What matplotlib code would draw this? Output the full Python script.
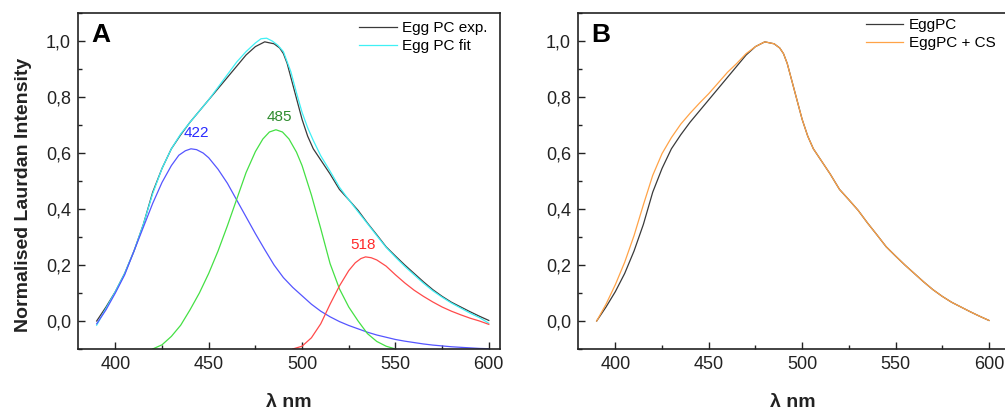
import numpy as np
import matplotlib
matplotlib.use('Agg')
import matplotlib.pyplot as plt
from matplotlib.ticker import MultipleLocator, FuncFormatter

plt.rcParams['font.family'] = ['Liberation Sans', 'DejaVu Sans']

# Egg PC experimental spectrum (used in both panels)
wl_exp = [390, 395, 400, 405, 410, 415, 420, 425, 430, 435, 440, 445, 450, 455, 460,
          465, 470, 475, 480, 485, 488, 490, 492, 494, 496, 498, 500, 503, 506, 510,
          515, 520, 525, 530, 535, 540, 545, 550, 555, 560, 565, 570, 575, 580, 585,
          590, 595, 600]
exp_pc = [0.0, 0.05, 0.105, 0.17, 0.25, 0.345, 0.46, 0.545, 0.615, 0.665, 0.71, 0.75, 0.79,
          0.83, 0.87, 0.91, 0.95, 0.98, 0.997, 0.99, 0.975, 0.955, 0.92, 0.87, 0.82, 0.77,
          0.72, 0.66, 0.615, 0.575, 0.525, 0.47, 0.433, 0.395, 0.35, 0.308, 0.265, 0.232,
          0.2, 0.17, 0.14, 0.112, 0.088, 0.067, 0.05, 0.033, 0.017, 0.002]

# Egg PC fit (panel A)
wl_fit = [390, 395, 400, 405, 410, 415, 420, 425, 430, 435, 440, 445, 450, 455, 460,
          465, 470, 475, 478, 481, 484, 487, 490, 494, 497, 500, 503, 506, 510, 515, 520,
          525, 530, 535, 540, 545, 550, 555, 560, 565, 570, 575, 580, 585, 590, 595, 600]
fit_pc = [-0.015, 0.045, 0.105, 0.17, 0.25, 0.345, 0.455, 0.545, 0.615, 0.668, 0.71, 0.75,
          0.79, 0.835, 0.88, 0.925, 0.962, 0.993, 1.008, 1.01, 1.0, 0.985, 0.962, 0.89,
          0.815, 0.745, 0.69, 0.645, 0.59, 0.535, 0.478, 0.433, 0.39, 0.348, 0.305, 0.263,
          0.228, 0.195, 0.165, 0.135, 0.108, 0.085, 0.064, 0.046, 0.028, 0.012, -0.008]

# fitted components
wl_422 = [390, 395, 400, 405, 410, 415, 420, 425, 430, 434, 437.5, 440.5, 443.5, 447,
          450, 455, 460, 465, 470, 475, 480, 485, 490, 495, 500, 505, 510, 515, 520, 525,
          530, 535, 540, 545, 550, 555, 560, 565, 570, 575, 580, 585, 590, 595, 600]
band_422 = [-0.01, 0.04, 0.1, 0.165, 0.25, 0.335, 0.42, 0.495, 0.555, 0.592, 0.608, 0.615,
            0.612, 0.6, 0.583, 0.542, 0.492, 0.432, 0.372, 0.312, 0.255, 0.2, 0.155, 0.12,
            0.09, 0.06, 0.035, 0.015, -0.002, -0.016, -0.028, -0.04, -0.05, -0.058, -0.066,
            -0.072, -0.077, -0.082, -0.086, -0.089, -0.092, -0.094, -0.096, -0.098, -0.099]

wl_485 = [420, 425, 430, 435, 440, 445, 450, 455, 460, 465, 470, 475, 479, 482.5, 486,
          489.5, 493, 497, 500, 505, 510, 515, 520, 525, 530, 535, 540, 545, 550]
band_485 = [-0.1, -0.085, -0.055, -0.015, 0.04, 0.1, 0.17, 0.25, 0.34, 0.435, 0.53, 0.605,
            0.65, 0.675, 0.683, 0.675, 0.65, 0.603, 0.555, 0.45, 0.33, 0.205, 0.115, 0.05,
            0.0, -0.045, -0.073, -0.09, -0.1]

wl_518 = [495, 500, 505, 510, 515, 520, 525, 528.5, 531.5, 534, 537, 540, 545, 550, 555,
          560, 565, 570, 575, 580, 585, 590, 595, 600]
band_518 = [-0.1, -0.09, -0.06, -0.01, 0.06, 0.125, 0.18, 0.208, 0.223, 0.229, 0.226,
            0.218, 0.196, 0.165, 0.136, 0.11, 0.088, 0.068, 0.05, 0.035, 0.022, 0.01, 0.0,
            -0.012]

# Egg PC + CS (panel B)
wl_cs = [390, 395, 400, 405, 410, 415, 420, 425, 430, 435, 440, 445, 450, 455, 460, 465,
         470, 475, 480, 485, 488, 490, 492, 494, 496, 498, 500, 503, 506, 510, 515, 520,
         525, 530, 535, 540, 545, 550, 555, 560, 565, 570, 575, 580, 585, 590, 595, 600]
exp_cs = [0.0, 0.06, 0.13, 0.21, 0.305, 0.415, 0.52, 0.598, 0.655, 0.703, 0.742, 0.778,
          0.812, 0.85, 0.888, 0.92, 0.955, 0.98, 0.997, 0.99, 0.975, 0.955, 0.92, 0.87,
          0.82, 0.77, 0.72, 0.66, 0.615, 0.575, 0.525, 0.47, 0.433, 0.395, 0.35, 0.308,
          0.265, 0.232, 0.2, 0.17, 0.14, 0.112, 0.088, 0.067, 0.05, 0.033, 0.017, 0.002]

peak_labels = ['422', '485', '518']

fig = plt.figure(figsize=(10.05, 4.12), dpi=100)
axA = fig.add_axes([78 / 1005, 63 / 412, 422 / 1005, 336 / 412])
axB = fig.add_axes([578 / 1005, 63 / 412, 430 / 1005, 336 / 412])

comma = FuncFormatter(lambda v, p: ('%.1f' % v).replace('.', ','))


def style_axes(ax, xmax):
    ax.set_xlim(380, xmax)
    ax.set_ylim(-0.1, 1.1)
    ax.xaxis.set_major_locator(MultipleLocator(50))
    ax.xaxis.set_minor_locator(MultipleLocator(25))
    ax.yaxis.set_major_locator(MultipleLocator(0.2))
    ax.yaxis.set_minor_locator(MultipleLocator(0.1))
    ax.yaxis.set_major_formatter(comma)
    ax.tick_params(which='both', direction='in', colors='#222222', labelcolor='#222222',
                   labelsize=13, width=1.0)
    ax.tick_params(which='major', length=5, pad=5)
    ax.tick_params(which='minor', length=3)
    for s in ax.spines.values():
        s.set_linewidth(1.2)
        s.set_color('#222222')
    ax.set_xlabel('λ nm', fontsize=14, fontweight='bold', color='#222222')
    ax.xaxis.set_label_coords(0.5, -0.158)
    ax.xaxis.label.set_va('center')


style_axes(axA, 606)
style_axes(axB, 610.2)

# panel A
axA.plot(wl_exp, exp_pc, color='#3a3a3a', lw=0.9, label='Egg PC exp.')
axA.plot(wl_fit, fit_pc, color='#3ff0f5', lw=0.9, label='Egg PC fit')
axA.plot(wl_422, band_422, color='#5555ff', lw=0.9)
axA.plot(wl_485, band_485, color='#44e044', lw=0.9)
axA.plot(wl_518, band_518, color='#ff4a4a', lw=0.9)
axA.text(443.3, 0.645, peak_labels[0], color='#2a2aff', fontsize=11, ha='center', va='bottom')
axA.text(487.7, 0.705, peak_labels[1], color='#2e8b2e', fontsize=11, ha='center', va='bottom')
axA.text(532.6, 0.245, peak_labels[2], color='#ff2a2a', fontsize=11, ha='center', va='bottom')
axA.set_ylabel('Normalised Laurdan Intensity', fontsize=14, fontweight='bold',
               color='#222222', va='center')
axA.yaxis.set_label_coords(-0.13, 0.46)
axA.text(0.031, 0.914, 'A', transform=axA.transAxes, fontsize=19, fontweight='bold',
         ha='left', va='baseline')
axA.legend(loc='upper left', bbox_to_anchor=(0.666, 0.976), frameon=False, fontsize=11,
           handlelength=2.5, handletextpad=0.3, labelspacing=0.25, borderpad=0,
           borderaxespad=0)

# panel B
axB.plot(wl_exp, exp_pc, color='#3a3a3a', lw=0.9, label='EggPC')
axB.plot(wl_cs, exp_cs, color='#ffa347', lw=0.9, label='EggPC + CS')
axB.text(0.031, 0.914, 'B', transform=axB.transAxes, fontsize=19, fontweight='bold',
         ha='left', va='baseline')
axB.legend(loc='upper left', bbox_to_anchor=(0.67, 0.985), frameon=False, fontsize=11,
           handlelength=2.4, handletextpad=0.4, labelspacing=0.25, borderpad=0,
           borderaxespad=0)

fig.savefig('out.png', dpi=100)
